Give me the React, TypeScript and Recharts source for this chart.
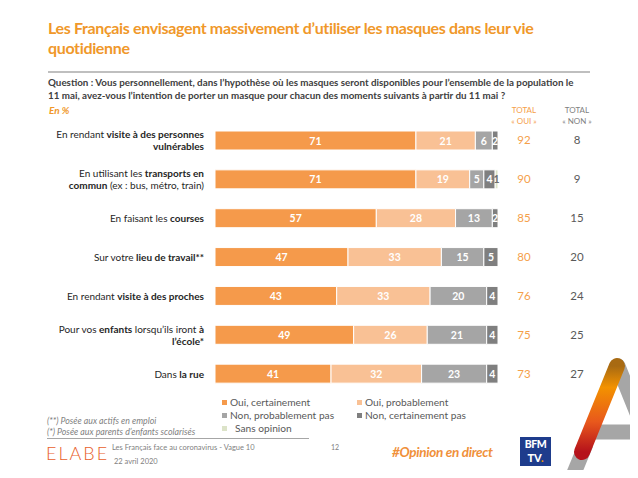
import { BarChart, Bar, XAxis, YAxis, LabelList } from "recharts";

// [ ] = bold part, | = line break
const CATEGORIES = [
  "En rendant [visite à des personnes]|[vulnérables]",
  "En utilisant les [transports en]|[commun] (ex : bus, métro, train)",
  "En faisant les [courses]",
  "Sur votre [lieu de travail**]",
  "En rendant [visite à des proches]",
  "Pour vos [enfants] lorsqu’ils iront [à]|[l’école*]",
  "Dans [la rue]",
];

const OUI_CERTAINEMENT = [71, 71, 57, 47, 43, 49, 41];
const OUI_PROBABLEMENT = [21, 19, 28, 33, 33, 26, 32];
const NON_PROBABLEMENT = [6, 5, 13, 15, 20, 21, 23];
const NON_CERTAINEMENT = [2, 4, 2, 5, 4, 4, 4];
const SANS_OPINION = [0, 1, 0, 0, 0, 0, 0];
const TOTAL_OUI = [92, 90, 85, 80, 76, 75, 73];
const TOTAL_NON = [8, 9, 15, 20, 24, 25, 27];

const SERIES = [
  { key: "ouiCert", name: "Oui, certainement", color: "#F59A4B", label: "#fff" },
  { key: "ouiProb", name: "Oui, probablement", color: "#F9C195", label: "#fff" },
  { key: "nonProb", name: "Non, probablement pas", color: "#A5A5A5", label: "#fff" },
  { key: "nonCert", name: "Non, certainement pas", color: "#7F7F7F", label: "#fff" },
  { key: "sansOp", name: "Sans opinion", color: "#DCE3C8", label: "#6f6f6f" },
];

const FONT = "Lato, 'Open Sans', sans-serif";
const ORANGE = "#F0982A";

const data = CATEGORIES.map((name, i) => ({
  name,
  ouiCert: OUI_CERTAINEMENT[i],
  ouiProb: OUI_PROBABLEMENT[i],
  nonProb: NON_PROBABLEMENT[i],
  nonCert: NON_CERTAINEMENT[i],
  sansOp: SANS_OPINION[i],
}));

function parseLine(line: string) {
  const parts: { t: string; b: boolean }[] = [];
  const re = /\[([^\]]*)\]|([^\[]+)/g;
  let m;
  while ((m = re.exec(line))) {
    if (m[1] !== undefined) parts.push({ t: m[1], b: true });
    else parts.push({ t: m[2], b: false });
  }
  return parts;
}

function CategoryTick(props: any) {
  const { y, payload } = props;
  const idx = payload?.index ?? props.index ?? 0;
  const lines = String(payload.value).split("|");
  const lh = 12;
  const y0 = y - ((lines.length - 1) * lh) / 2;
  return (
    <g>
      {lines.map((line, li) => (
        <text
          key={li}
          x={204}
          y={y0 + li * lh}
          dy={4}
          textAnchor="end"
          fontSize={10}
          fontFamily={FONT}
          fill="#262626"
        >
          {parseLine(line).map((p, pi) => (
            <tspan key={pi} fontWeight={p.b ? 700 : 400}>
              {p.t}
            </tspan>
          ))}
        </text>
      ))}
      <text x={524} y={y} dy={4} textAnchor="middle" fontSize={11.5} fontFamily={FONT} fill="#F5A04A">
        {TOTAL_OUI[idx]}
      </text>
      <text x={577} y={y} dy={4} textAnchor="middle" fontSize={11.5} fontFamily={FONT} fill="#595959">
        {TOTAL_NON[idx]}
      </text>
    </g>
  );
}

function segLabel(color: string) {
  return (props: any) => {
    const { x, y, width, height, value } = props;
    if (!value) return null;
    return (
      <text
        x={x + width / 2}
        y={y + height / 2}
        dy={4}
        textAnchor="middle"
        fontSize={10.5}
        fontWeight={700}
        fontFamily={FONT}
        fill={color}
      >
        {value}
      </text>
    );
  };
}

function ALogo() {
  return (
    <svg width={638} height={478} style={{ position: "absolute", left: 0, top: 0, pointerEvents: "none" }}>
      <defs>
        <linearGradient id="aGrad" x1="0" y1="0" x2="0" y2="1">
          <stop offset="0%" stopColor="#A86A12" />
          <stop offset="25%" stopColor="#F39200" />
          <stop offset="65%" stopColor="#E8581C" />
          <stop offset="100%" stopColor="#B5121B" />
        </linearGradient>
      </defs>
      <g stroke="#A6A6A6" strokeWidth={15} fill="none">
        <line x1={618} y1={366} x2={660} y2={470} strokeLinecap="round" />
        <line x1={585} y1={432} x2={650} y2={432} />
        <line x1={586} y1={444} x2={565} y2={495} />
      </g>
      <line x1={617} y1={366} x2={582} y2={452} stroke="url(#aGrad)" strokeWidth={16} strokeLinecap="round" />
    </svg>
  );
}

export default function App() {
  return (
    <div
      style={{
        position: "relative",
        width: 638,
        height: 478,
        margin: -8,
        overflow: "hidden",
        background: "#fff",
        fontFamily: FONT,
      }}
    >
      {/* Title */}
      <div
        style={{
          position: "absolute",
          left: 48,
          top: 18,
          width: 560,
          fontSize: 16,
          lineHeight: "20px",
          fontWeight: 700,
          letterSpacing: -0.35,
          color: ORANGE,
        }}
      >
        Les Français envisagent massivement d’utiliser les masques dans leur vie
        <br />
        quotidienne
      </div>
      <div style={{ position: "absolute", left: 48, top: 71, width: 542, height: 1.5, background: "#bfbfbf" }} />

      {/* Question */}
      <div
        style={{
          position: "absolute",
          left: 48,
          top: 76,
          width: 580,
          whiteSpace: "nowrap",
          fontSize: 9.8,
          lineHeight: "13px",
          fontWeight: 700,
          color: "#404040",
        }}
      >
        Question : Vous personnellement, dans l’hypothèse où les masques seront disponibles pour l’ensemble de la population le
        <br />
        11 mai, avez-vous l’intention de porter un masque pour chacun des moments suivants à partir du 11 mai ?
      </div>
      <div
        style={{
          position: "absolute",
          left: 49,
          top: 104,
          fontSize: 10,
          fontWeight: 700,
          fontStyle: "italic",
          color: ORANGE,
        }}
      >
        En %
      </div>

      {/* Totals header */}
      {[
        { x: 524, c: "#F5A04A", l2: "« OUI »" },
        { x: 577, c: "#7f7f7f", l2: "« NON »" },
      ].map((h) => (
        <div
          key={h.l2}
          style={{
            position: "absolute",
            left: h.x - 30,
            top: 105,
            width: 60,
            textAlign: "center",
            fontSize: 8,
            lineHeight: "11px",
            color: h.c,
          }}
        >
          TOTAL
          <br />
          {h.l2}
        </div>
      ))}

      {/* Chart */}
      <div style={{ position: "absolute", left: 0, top: 121 }}>
        <BarChart
          width={638}
          height={272}
          data={data}
          layout="vertical"
          margin={{ top: 0, right: 140, bottom: 0, left: 0 }}
          barSize={19}
        >
          <XAxis type="number" domain={[0, 100]} hide />
          <YAxis
            type="category"
            dataKey="name"
            width={215}
            tickLine={false}
            axisLine={false}
            interval={0}
            tick={<CategoryTick />}
          />
          {SERIES.map((s) => (
            <Bar
              key={s.key}
              dataKey={s.key}
              name={s.name}
              stackId="a"
              fill={s.color}
              stroke="#fff"
              strokeWidth={1}
              isAnimationActive={false}
            >
              <LabelList dataKey={s.key} content={segLabel(s.label)} />
            </Bar>
          ))}
        </BarChart>
      </div>

      {/* Legend */}
      {SERIES.map((s, i) => {
        const col = i % 2;
        const row = Math.floor(i / 2);
        return (
          <div
            key={s.key}
            style={{
              position: "absolute",
              left: col ? 357 : 222,
              top: 396 + row * 13,
              display: "flex",
              alignItems: "center",
              fontSize: 10.2,
              lineHeight: "12px",
              color: "#595959",
            }}
          >
            <span style={{ width: 5, height: 5, background: s.color, marginRight: s.key === "sansOp" ? 8 : 3 }} />
            {s.name}
          </div>
        );
      })}

      {/* Footnotes */}
      <div
        style={{
          position: "absolute",
          left: 47,
          top: 415,
          fontSize: 8.8,
          lineHeight: "11px",
          fontStyle: "italic",
          color: "#7f7f7f",
        }}
      >
        (**) Posée aux actifs en emploi
        <br />
        (*) Posée aux parents d’enfants scolarisés
      </div>
      <div style={{ position: "absolute", left: 47, top: 438, width: 262, height: 1, background: "#a6a6a6" }} />

      {/* Footer */}
      <div
        style={{
          position: "absolute",
          left: 46,
          top: 444,
          fontSize: 18,
          lineHeight: "18px",
          fontWeight: 300,
          letterSpacing: 2,
          color: "#E8602C",
        }}
      >
        ELABE
      </div>
      <div style={{ position: "absolute", left: 112, top: 441, fontSize: 7.5, lineHeight: "14px", color: "#7f7f7f" }}>
        Les Français face au coronavirus - Vague 10
        <br />
        &nbsp;22 avril 2020
      </div>
      <div style={{ position: "absolute", left: 331, top: 443, fontSize: 7, color: "#7f7f7f" }}>12</div>
      <div
        style={{
          position: "absolute",
          left: 392,
          top: 444,
          fontSize: 13.5,
          fontWeight: 700,
          fontStyle: "italic",
          letterSpacing: -0.3,
          color: "#F0903A",
        }}
      >
        #Opinion en direct
      </div>
      <div
        style={{
          position: "absolute",
          left: 520,
          top: 437,
          width: 31,
          height: 29,
          background: "#1E3C8C",
        }}
      />
      <div
        style={{
          position: "absolute",
          left: 520,
          top: 438,
          width: 31,
          color: "#fff",
          fontWeight: 900,
          fontSize: 10.5,
          lineHeight: "13px",
          textAlign: "center",
          letterSpacing: -0.5,
        }}
      >
        BFM
      </div>
      <div
        style={{
          position: "absolute",
          left: 520,
          top: 451,
          width: 31,
          color: "#fff",
          fontWeight: 900,
          fontSize: 11,
          lineHeight: "13px",
          textAlign: "center",
        }}
      >
        TV<span style={{ color: "#F39200" }}>.</span>
      </div>

      <ALogo />
    </div>
  );
}
